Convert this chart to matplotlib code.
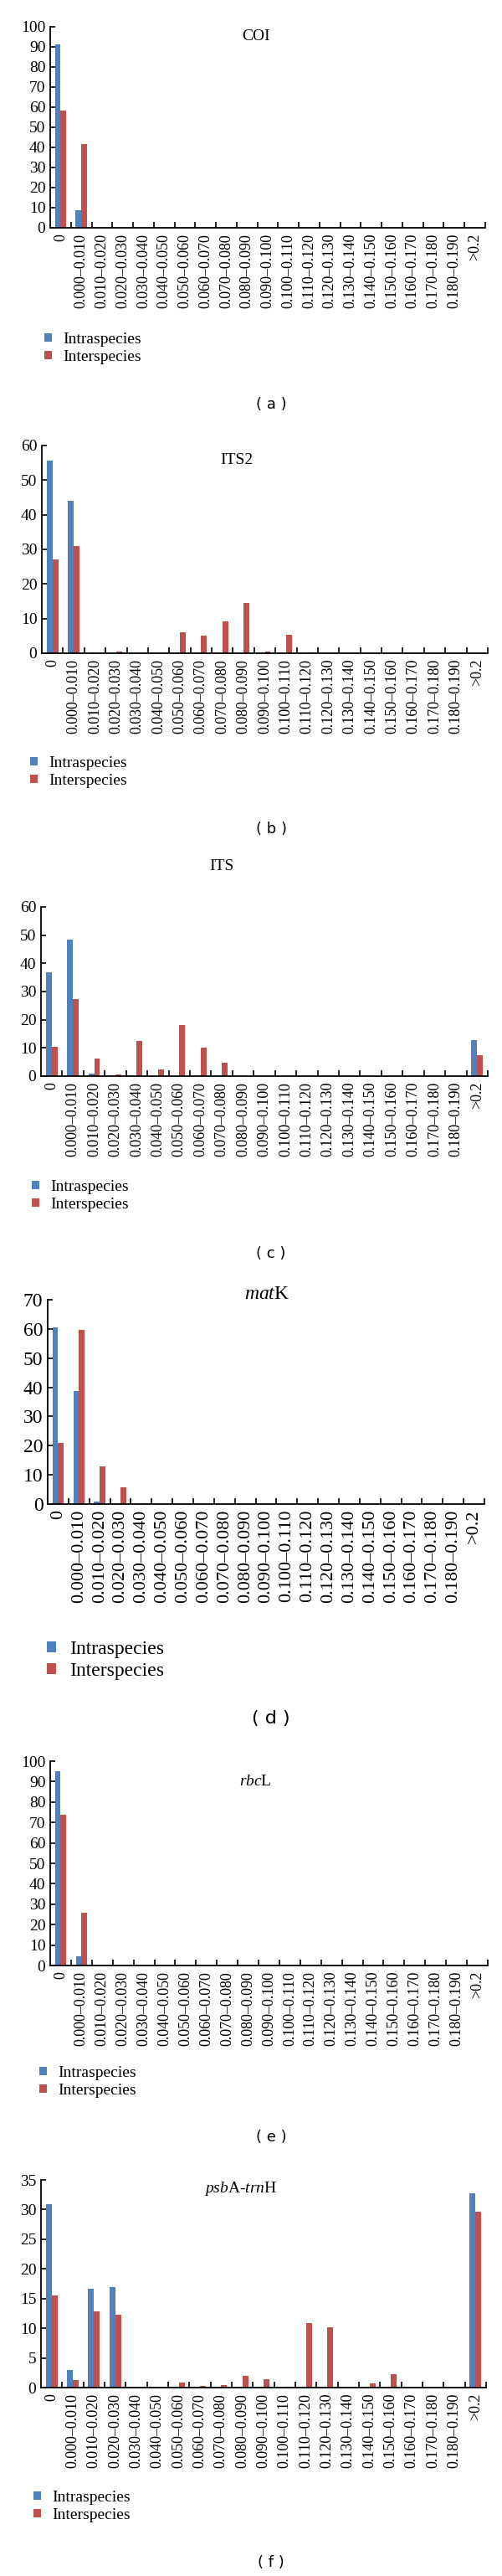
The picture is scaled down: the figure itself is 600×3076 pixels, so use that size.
import numpy as np
import matplotlib
matplotlib.use("Agg")
import matplotlib.pyplot as plt
from matplotlib.patches import Patch

plt.rcParams['font.family'] = ['Liberation Serif', 'DejaVu Serif']
plt.rcParams['mathtext.fontset'] = 'custom'
plt.rcParams['mathtext.rm'] = 'Liberation Serif'
plt.rcParams['mathtext.it'] = 'Liberation Serif:italic'

W, H = 600, 3076
BLUE = "#4f81bd"
RED = "#c0504d"

# kategorije razdalj (oznake na osi x)
categories = ["0", "0.000–0.010", "0.010–0.020", "0.020–0.030", "0.030–0.040",
              "0.040–0.050", "0.050–0.060", "0.060–0.070", "0.070–0.080",
              "0.080–0.090", "0.090–0.100", "0.100–0.110", "0.110–0.120",
              "0.120–0.130", "0.130–0.140", "0.140–0.150", "0.150–0.160",
              "0.160–0.170", "0.170–0.180", "0.180–0.190", ">0.2"]
series_names = ["Intraspecies", "Interspecies"]

# COI
coi_intra = [91.3, 8.7, 0, 0, 0, 0, 0, 0, 0, 0, 0, 0, 0, 0, 0, 0, 0, 0, 0, 0, 0]
coi_inter = [58.4, 41.6, 0, 0, 0, 0, 0, 0, 0, 0, 0, 0, 0, 0, 0, 0, 0, 0, 0, 0, 0]
# ITS2
its2_intra = [55.7, 44.1, 0.2, 0, 0, 0, 0, 0, 0, 0, 0, 0, 0, 0, 0, 0, 0, 0, 0, 0, 0]
its2_inter = [27.1, 31.0, 0, 0.5, 0, 0, 6.0, 5.2, 9.1, 14.4, 0.5, 5.4, 0.2, 0, 0, 0, 0, 0, 0, 0, 0]
# ITS
its_intra = [36.8, 48.5, 0.9, 0, 0, 0, 0, 0, 0, 0, 0, 0, 0, 0, 0, 0, 0, 0, 0, 0, 12.9]
its_inter = [10.3, 27.4, 6.2, 0.6, 12.5, 2.3, 18.0, 10.1, 4.8, 0, 0, 0, 0, 0, 0, 0, 0, 0, 0, 0, 7.5]
# matK
matk_intra = [60.5, 38.7, 0.9, 0, 0, 0, 0, 0, 0, 0, 0, 0, 0, 0, 0, 0, 0, 0, 0, 0, 0]
matk_inter = [21.0, 59.8, 13.0, 5.7, 0.4, 0, 0, 0, 0, 0, 0, 0, 0, 0, 0, 0, 0, 0, 0, 0, 0]
# rbcL
rbcl_intra = [95.0, 4.4, 0, 0, 0, 0, 0, 0, 0, 0, 0, 0, 0, 0, 0, 0, 0, 0, 0, 0, 0]
rbcl_inter = [73.8, 25.8, 0, 0, 0, 0, 0, 0, 0, 0, 0, 0, 0, 0, 0, 0, 0, 0, 0, 0, 0]
# psbA-trnH
psba_intra = [30.9, 2.9, 16.6, 16.9, 0, 0, 0.1, 0, 0, 0, 0, 0, 0, 0, 0, 0, 0, 0, 0, 0, 32.7]
psba_inter = [15.5, 1.2, 12.9, 12.3, 0, 0, 0.8, 0.3, 0.4, 2.0, 1.4, 0.2, 10.9, 10.1, 0, 0.7, 2.3, 0, 0, 0, 29.6]

titles = ["COI", "ITS2", "ITS", r"$\mathit{mat}\mathrm{K}$", r"$\mathit{rbc}\mathrm{L}$",
          r"$\mathit{psb}\mathrm{A}$-$\mathit{trn}\mathrm{H}$"]
letters = ["a", "b", "c", "d", "e", "f"]
intra = [coi_intra, its2_intra, its_intra, matk_intra, rbcl_intra, psba_intra]
inter = [coi_inter, its2_inter, its_inter, matk_inter, rbcl_inter, psba_inter]
ymax = [100, 60, 60, 70, 100, 35]
ystep = [10, 10, 10, 10, 10, 5]

# postavitev v pikslih: (levo, desno, vrh, nicla), naslov (x, y), legenda (x, y), napis y, velikost pisave
layout = [
    ((60, 580, 32, 272), (306, 44), (53, 397), 483, 13),
    ((50, 583, 532, 780), (283, 550), (36, 903), 990, 13),
    ((49, 583, 1083, 1285), (265, 1035), (38, 1409), 1497, 13),
    ((57, 579, 1552, 1796), (319, 1546), (56, 1959), 2052, 16),
]
layout += [
    ((60, 583, 2103, 2347), (305, 2127), (47, 2467), 2552, 13),
    ((49, 581, 2603, 2851), (288, 2613), (40, 2974), 3060, 13),
]

fig = plt.figure(figsize=(W / 100, H / 100), dpi=100)
x = np.arange(len(categories))
bw = 0.27

for i in range(6):
    (L, R, T, B), (tx, ty), (lx, ly), cy, fs = layout[i]
    ax = fig.add_axes([L / W, 1 - B / H, (R - L) / W, (B - T) / H])
    ax.bar(x - bw / 2, intra[i], width=bw, color=BLUE, edgecolor="none")
    ax.bar(x + bw / 2, inter[i], width=bw, color=RED, edgecolor="none")
    ax.set_xlim(-0.5, len(categories) - 0.5)
    ax.set_ylim(0, ymax[i])
    ax.set_yticks(np.arange(0, ymax[i] + 1, ystep[i]))
    ax.spines[["top", "right"]].set_visible(False)
    for s in ["left", "bottom"]:
        ax.spines[s].set_linewidth(1.3)
    # kljukice na mejah kategorij, oznake na sredini
    ax.set_xticks(np.arange(0.5, len(categories), 1.0))
    ax.set_xticklabels([])
    ax.set_xticks(x, minor=True)
    ax.set_xticklabels(categories, minor=True, rotation=90, fontsize=fs)
    ax.tick_params(axis="x", which="major", direction="in", length=5, width=1.2)
    ax.tick_params(axis="x", which="minor", length=0, pad=5)
    ax.tick_params(axis="y", direction="in", length=4, width=1.2, labelsize=fs + 1, pad=4)

    fig.text(tx / W, 1 - ty / H, titles[i], ha="center", va="center", fontsize=fs + 1)
    handles = [Patch(facecolor=BLUE), Patch(facecolor=RED)]
    fig.legend(handles, series_names, loc="upper left", bbox_to_anchor=(lx / W, 1 - ly / H),
               frameon=False, fontsize=fs + 1, handlelength=0.45, handleheight=0.45,
               handletextpad=0.7, labelspacing=0.2, borderpad=0, borderaxespad=0)
    fig.text(324 / W, 1 - cy / H, "( " + letters[i] + " )", ha="center", va="center",
             fontsize=fs, family="DejaVu Sans")

fig.savefig("out.png", dpi=100)
